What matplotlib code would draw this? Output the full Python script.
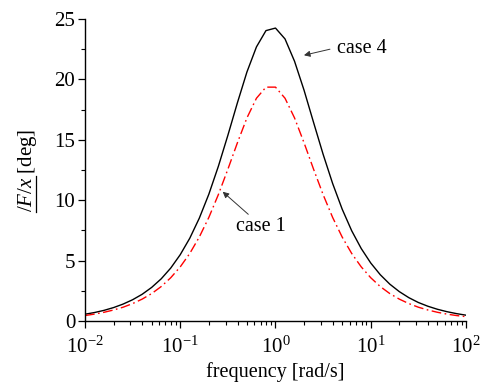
import numpy as np
import matplotlib
matplotlib.use("Agg")
import matplotlib.pyplot as plt
from matplotlib.lines import Line2D
from matplotlib.ticker import MultipleLocator, LogLocator, NullFormatter

# --- Data ---
log_freq = [-2.0, -1.9, -1.8, -1.7, -1.6, -1.5, -1.4, -1.3, -1.2, -1.1,
            -1.0, -0.9, -0.8, -0.7, -0.6, -0.5, -0.4, -0.3, -0.2, -0.1,
            0.0, 0.1, 0.2, 0.3, 0.4, 0.5, 0.6, 0.7, 0.8, 0.9,
            1.0, 1.1, 1.2, 1.3, 1.4, 1.5, 1.6, 1.7, 1.8, 1.9, 2.0]
freq = [10 ** v for v in log_freq]

case4 = [0.56, 0.70, 0.88, 1.11, 1.40, 1.76, 2.21, 2.78, 3.49, 4.38,
         5.49, 6.85, 8.51, 10.49, 12.80, 15.37, 18.06, 20.61, 22.69, 24.04,
         24.25, 23.35, 21.50, 19.10, 16.43, 13.80, 11.38, 9.26, 7.47, 6.00,
         4.80, 3.83, 3.05, 2.43, 1.93, 1.53, 1.22, 0.97, 0.77, 0.61, 0.48]

case1 = [0.45, 0.57, 0.72, 0.91, 1.14, 1.44, 1.81, 2.27, 2.85, 3.58,
         4.48, 5.59, 6.95, 8.57, 10.46, 12.56, 14.75, 16.81, 18.44, 19.36,
         19.36, 18.44, 16.81, 14.75, 12.56, 10.46, 8.57, 6.95, 5.59, 4.48,
         3.58, 2.85, 2.27, 1.81, 1.44, 1.14, 0.91, 0.72, 0.57, 0.45, 0.36]

# --- Style ---
plt.rcParams["font.family"] = "Liberation Serif"
plt.rcParams["mathtext.fontset"] = "custom"
plt.rcParams["mathtext.rm"] = "Liberation Serif"
plt.rcParams["mathtext.it"] = "Liberation Serif:italic"
plt.rcParams["mathtext.bf"] = "Liberation Serif:bold"

fig = plt.figure(figsize=(4.84, 3.84), dpi=100)
ax = fig.add_axes([0.1756, 0.1641, 0.7872, 0.7864])

ax.plot(freq, case4, color="black", lw=1.0)
ax.plot(freq, case1, color="red", lw=1.0, linestyle=(0, (7, 2.5, 1.2, 2.5)))

ax.set_xscale("log")
ax.set_xlim(1e-2, 1e2)
ax.set_ylim(0, 25)

ax.yaxis.set_major_locator(MultipleLocator(5))
ax.yaxis.set_minor_locator(MultipleLocator(2.5))
ax.xaxis.set_major_locator(LogLocator(base=10, numticks=10))
ax.xaxis.set_minor_locator(LogLocator(base=10, subs=np.arange(2, 10), numticks=20))
ax.xaxis.set_minor_formatter(NullFormatter())

for side in ["top", "right"]:
    ax.spines[side].set_visible(False)
for side in ["left", "bottom"]:
    ax.spines[side].set_linewidth(1.0)

ax.tick_params(which="major", direction="out", length=5, width=0.9, labelsize=15)
ax.tick_params(which="minor", direction="out", length=3, width=0.8)
ax.tick_params(axis="x", which="major", pad=6)
ax.tick_params(axis="y", which="major", pad=2)

ax.set_xlabel("frequency [rad/s]", fontsize=14.5, labelpad=3)
ylab = ax.set_ylabel(r"$/F/x$ [deg]", fontsize=15, labelpad=11)

# --- Annotations ---
arrow = dict(arrowstyle="-|>", color="#333333", lw=0.7, mutation_scale=9,
             shrinkA=0, shrinkB=0)
ax.annotate("", xy=(1.99, 22.0), xytext=(3.73, 22.5), arrowprops=arrow)
ax.text(4.43, 22.57, "case 4", fontsize=14.5, ha="left", va="center")

ax.annotate("", xy=(0.279, 10.7), xytext=(0.518, 8.83), arrowprops=arrow)
ax.text(0.705, 7.86, "case 1", fontsize=14.5, ha="center", va="center")

# underline under the "/F/x" part of the y label (angle sign)
fig.canvas.draw()
renderer = fig.canvas.get_renderer()
lab_box = ylab.get_window_extent(renderer)
probe = fig.text(0, 0, r"$/F/x$", fontsize=15, rotation=90)
part_h = probe.get_window_extent(renderer).height
probe.remove()
ux = lab_box.x1 - 3
fig.add_artist(Line2D([ux / fig.bbox.width] * 2,
                      [lab_box.y0 / fig.bbox.height, (lab_box.y0 + part_h) / fig.bbox.height],
                      color="black", lw=0.9))

fig.savefig("out.png", dpi=100)
plt.close(fig)
